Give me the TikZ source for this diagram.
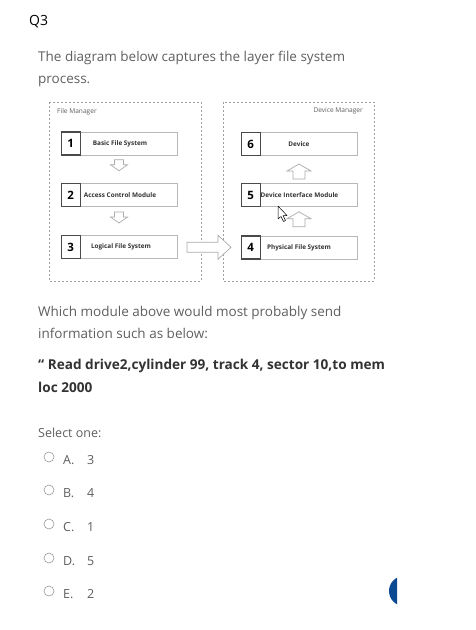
\documentclass[tikz,border=0pt]{standalone}
\usepackage{fontspec}
\setmainfont{Open Sans}
\usetikzlibrary{calc}
\definecolor{qtxt}{HTML}{5F5F5F}
\definecolor{qdark}{HTML}{333333}
\definecolor{lgray}{HTML}{B8B8B8}
\definecolor{dgray}{HTML}{4A4A4A}
\definecolor{qblue}{HTML}{0B4A92}
\tikzset{
  qline/.style={anchor=base west, inner sep=0pt, text=qtxt, font=\fontsize{13.5}{16}\selectfont},
  qbold/.style={anchor=base west, inner sep=0pt, text=qdark, font=\fontsize{13.6}{16}\selectfont\bfseries},
  opt/.style={anchor=base west, inner sep=0pt, text=qtxt, font=\fontsize{12.5}{15}\selectfont},
  radio/.style={draw=gray!80, line width=0.6pt, fill=white},
  mgr/.style={draw=gray!75, dashed, dash pattern=on 2pt off 2pt, line width=0.6pt},
  mgrlabel/.style={inner sep=0pt, text=qtxt, font=\fontsize{6.6}{7}\selectfont},
  layer/.style={draw=lgray, line width=0.8pt, minimum width=116pt, minimum height=23pt, inner sep=0pt, text=qdark, font=\fontsize{6.4}{7}\selectfont\bfseries},
  num/.style={draw=dgray, line width=1.1pt, minimum width=19pt, minimum height=23pt, inner sep=0pt, anchor=west, text=black, font=\fontsize{11.5}{12}\selectfont\bfseries},
  harrow/.style={draw=gray!65, line width=0.7pt, fill=white, line join=miter},
  smalldown/.pic={\draw[harrow] (-4.5,-5.5) -- (4.5,-5.5) -- (4.5,-0.5) -- (8.5,-0.5) -- (0,5.5) -- (-8.5,-0.5) -- (-4.5,-0.5) -- cycle;},
  bigup/.pic={\draw[harrow] (0,-7.5) -- (12,-0.5) -- (6,-0.5) -- (6,7.5) -- (-6,7.5) -- (-6,-0.5) -- (-12,-0.5) -- cycle;},
  bigright/.pic={\draw[harrow] (-22,-5) -- (9,-5) -- (9,-12) -- (22,0) -- (9,12) -- (9,5) -- (-22,5) -- cycle;}
}
\begin{document}
\begin{tikzpicture}[x=1pt,y=-1pt]
\useasboundingbox[fill=white] (0,0) rectangle (476,630);

% Header
\node[anchor=base west, inner sep=0pt, text=black, font=\fontsize{14}{16}\selectfont] (q3) at (29,25) {Q3};
\node[qline] (l1) at (38,61) {The diagram below captures the layer file system};
\node[qline] (l2) at (38,83) {process.};

% Manager frames
\draw[mgr] (49,102) rectangle (201,281);
\draw[mgr] (223,102) rectangle (374,281);
\node[mgrlabel, anchor=west] (fm) at (57,112) {File Manager};
\node[mgrlabel, anchor=east] (dm) at (363,111) {Device Manager};

% Layers, left
\node[layer] (b1) at (119,143.5) {\hspace*{2pt}Basic File System};
\node[num] (n1) at (b1.west) {1};
\node[layer] (b2) at (119,195) {\hspace*{2pt}Access Control Module};
\node[num] (n2) at (b2.west) {2};
\node[layer] (b3) at (119,247) {\hspace*{4pt}Logical File System};
\node[num] (n3) at (b3.west) {3};

% Layers, right
\node[layer] (b6) at (299,144) {Device};
\node[num] (n6) at (b6.west) {6};
\node[layer] (b5) at (299,195) {\hspace*{1pt}Device Interface Module};
\node[num] (n5) at (b5.west) {5};
\node[layer] (b4) at (299,247.5) {Physical File System};
\node[num] (n4) at (b4.west) {4};

% Hollow arrows
\pic at ($(b1.south)!0.5!(b2.north)+(0,-4)$) {smalldown};
\pic at ($(b2.south)!0.5!(b3.north)+(0,-3.5)$) {smalldown};
\pic at ($(b6.south)!0.5!(b5.north)+(0,2)$) {bigup};
\pic at ($(b5.south)!0.5!(b4.north)+(0,-2)$) {bigup};
\pic at ($(b3.east)!0.5!(b4.west)+(0,0)$) {bigright};

% Mouse cursor
\draw[black, line width=0.5pt, fill=white, line join=round] (278,206) -- (278,219) -- (281,216.5) -- (283.5,221.5) -- (285.5,220.5) -- (283,215.5) -- (287,215.5) -- cycle;

% Question
\node[qline] (w1) at (38,316) {Which module above would most probably send};
\node[qline] (w2) at (38,338.5) {information such as below:};
\node[qbold] (r1) at (38,369) {\char"201C\ Read drive2,cylinder 99, track 4, sector 10,to mem};
\node[qbold] (r2) at (38,392) {loc 2000};

% Options
\node[opt] (sel) at (38,437) {Select one:};
\foreach \y/\l/\v [count=\i] in {464/A./3, 497/B./4, 531/C./1, 565/D./5, 598/E./2}{
  \node[radio, circle, minimum size=10pt, inner sep=0pt] (r\i) at (49,\y-7) {};
  \node[opt] (o\i) at (63,\y) {\l};
  \node[opt] (v\i) at (87,\y) {\v};
}

% Blue half disc
\begin{scope}
\clip (380,570) rectangle (397,612);
\fill[qblue] (404,591) circle (15);
\end{scope}
\end{tikzpicture}
\end{document}
